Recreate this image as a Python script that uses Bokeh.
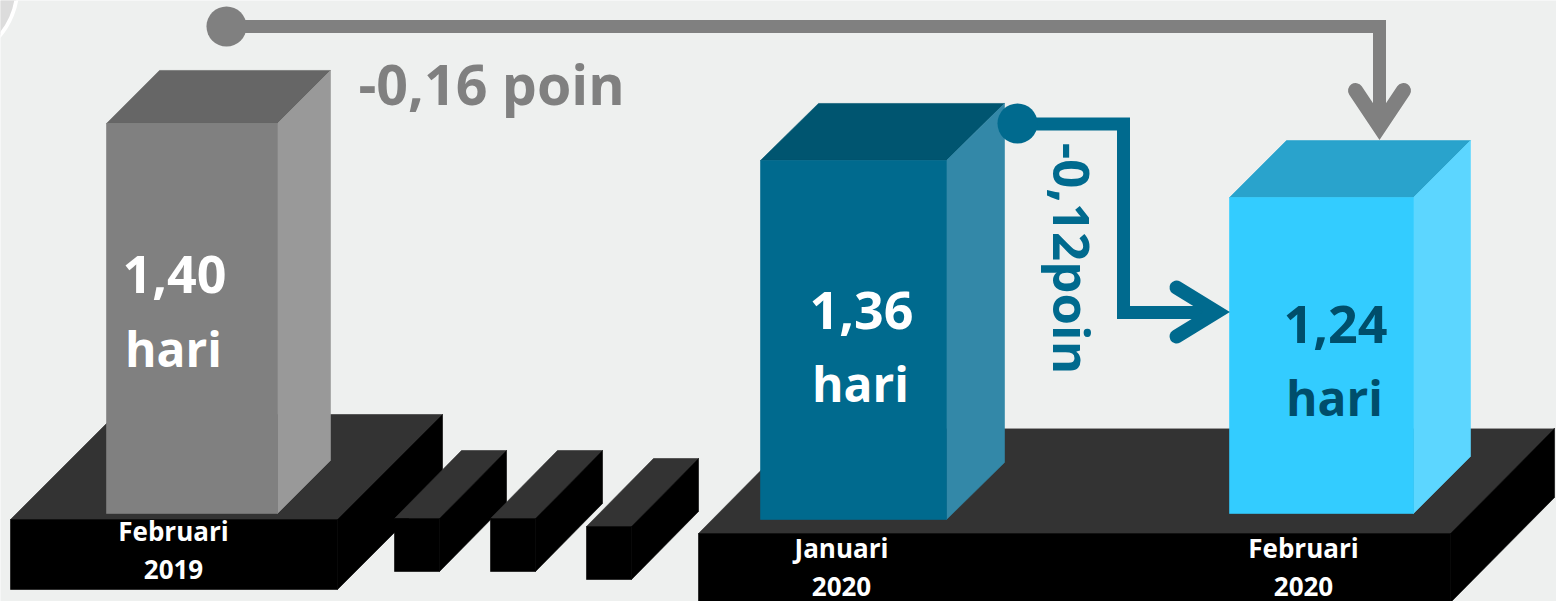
from bokeh.plotting import figure
from bokeh.models import Range1d
from bokeh.core.properties import value
from bokeh.embed import file_html
from bokeh.resources import INLINE

# ---- data ----
periods = [["Februari", "2019"], ["Januari", "2020"], ["Februari", "2020"]]
days = [1.40, 1.36, 1.24]
unit = "hari"
deltas = [-0.16, -0.12]
delta_unit = "poin"

# ---- layout ----
FONT = value("Open Sans")
BG = "#EEF0EF"
BARS = [
    dict(x0=106, x1=277, base=513, k=278.6, dx=53, dy=53, cols=("#808080", "#666666", "#999999")),
    dict(x0=760, x1=946, base=519, k=264.0, dx=58, dy=57, cols=("#006A8E", "#005570", "#3388A8")),
    dict(x0=1229, x1=1413, base=513, k=254.8, dx=57, dy=57, cols=("#33CCFF", "#29A3CC", "#5CD6FF")),
]
PEDESTALS = [
    (10, 337, 519, 589, 105, 105),
    (394, 439, 518, 571, 67, 68),
    (490, 535, 518, 571, 67, 68),
    (586, 631, 526, 579, 67, 68),
    (698, 1450, 533, 602, 104, 105),
]

p = figure(width=1556, height=601, output_backend="svg", toolbar_location=None,
           x_range=Range1d(0, 1556), y_range=Range1d(601, 0),
           x_axis_type=None, y_axis_type=None, min_border=0,
           background_fill_color=BG, border_fill_color=BG, outline_line_color=None)
p.grid.visible = False


def face(xs, ys, color):
    p.patch(xs, ys, fill_color=color, line_color=color, line_width=0.6)


def box(x0, x1, top, bottom, dx, dy, front, roof, side):
    face([x0, x1, x1 + dx, x0 + dx], [top, top, top - dy, top - dy], roof)
    face([x1, x1 + dx, x1 + dx, x1], [top, top - dy, bottom - dy, bottom], side)
    face([x0, x1, x1, x0], [top, top, bottom, bottom], front)


p.circle([-60], [-14], radius=77, fill_color="#DCDCDC", line_color="white", line_width=4)

for x0, x1, top, bottom, dx, dy in PEDESTALS:
    box(x0, x1, top, bottom, dx, dy, "#000000", "#333333", "#000000")
p.line([802, 1553], [428, 428], line_color="#999999", line_width=1)

for b, d in zip(BARS, days):
    box(b["x0"], b["x1"], b["base"] - d * b["k"], b["base"], b["dx"], b["dy"], *b["cols"])

GREY = "#808080"
TEAL = "#006A8E"
p.line([226, 1379, 1379], [26, 26, 127], line_color=GREY, line_width=13, line_join="miter")
p.line([1355, 1379, 1403], [90, 126, 90], line_color=GREY, line_width=15, line_join="miter", line_cap="round")
p.scatter([226], [26], size=40, marker="circle", fill_color=GREY, line_color=None)

p.line([1017, 1123, 1123, 1216], [123.5, 123.5, 312, 312], line_color=TEAL, line_width=13, line_join="miter")
p.line([1176, 1216, 1176], [287, 311.5, 336], line_color=TEAL, line_width=14, line_join="miter", line_cap="round")
p.scatter([1017], [123], size=40, marker="circle", fill_color=TEAL, line_color=None)


def txt(x, y, s, size, color, angle=0.0, align="center"):
    p.text([x], [y], text=[s], text_font=FONT, text_font_style="bold",
           text_font_size=f"{size}px", text_color=color, text_align=align,
           text_baseline="alphabetic", angle=angle)


def fmt(v):
    return f"{v:.2f}".replace(".", ",")


# anchor offsets compensate the renderer's baseline shift (0.4 em)
def base(y, size):
    return y - 0.4 * size


txt(358, base(105, 55.5), f"{fmt(deltas[0])} {delta_unit}", 55.5, GREY, align="left")
txt(1052 + 0.4 * 51, 258, f"{fmt(deltas[1])}{delta_unit}", 51, TEAL, angle=-1.5708)

VALUE_POS = [((174, 295), (173, 367)), ((861, 331), (860, 402)), ((1335, 345), (1334, 416))]
VALUE_COL = ["#FFFFFF", "#FFFFFF", "#004E6B"]
for d, (a, b), c in zip(days, VALUE_POS, VALUE_COL):
    txt(a[0], base(a[1], 52), fmt(d), 52, c)
    txt(b[0], base(b[1], 48), unit, 48, c)

LABEL_POS = [(173, 541, 579), (841, 558, 596), (1303, 558, 596)]
for (l1, l2), (x, y1, y2) in zip(periods, LABEL_POS):
    txt(x, base(y1, 26), l1, 26, "#FFFFFF")
    txt(x, base(y2, 26), l2, 26, "#FFFFFF")

open("out.html", "w").write(file_html(p, INLINE))
